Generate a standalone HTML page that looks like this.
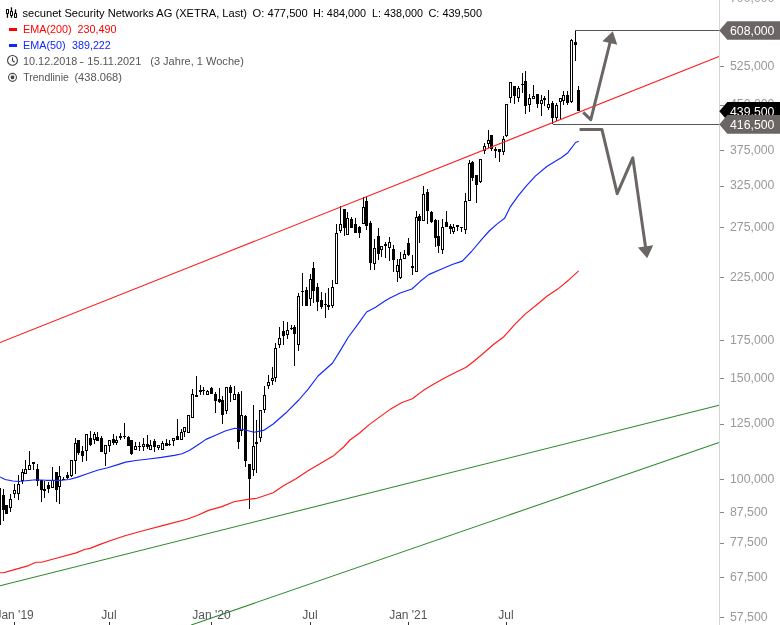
<!DOCTYPE html>
<html><head><meta charset="utf-8"><title>secunet Security Networks AG</title>
<style>
html,body{margin:0;padding:0;background:#fff;}
body{width:780px;height:625px;overflow:hidden;position:relative;font-family:"Liberation Sans",sans-serif;}
svg{position:absolute;left:0;top:0;display:block;}
text{font-family:"Liberation Sans",sans-serif;}
</style></head><body>
<svg width="780" height="625" viewBox="0 0 780 625">
<rect width="780" height="625" fill="#fff"/>

<g shape-rendering="crispEdges">
<rect x="0" y="488" width="1" height="37" fill="#000"/>
<rect x="-1" y="488" width="1" height="37" fill="#000"/>
<rect x="-2" y="498" width="3" height="19" fill="#000"/>
<rect x="-1" y="499" width="1" height="17" fill="#fff"/>
<rect x="3" y="489" width="1" height="32" fill="#000"/>
<rect x="2" y="495" width="3" height="15" fill="#000"/>
<rect x="6" y="505" width="1" height="9" fill="#000"/>
<rect x="5" y="505" width="3" height="9" fill="#000"/>
<rect x="10" y="494" width="1" height="18" fill="#000"/>
<rect x="9" y="499" width="3" height="9" fill="#000"/>
<rect x="10" y="500" width="1" height="7" fill="#fff"/>
<rect x="14" y="484" width="1" height="14" fill="#000"/>
<rect x="13" y="490" width="3" height="4" fill="#000"/>
<rect x="14" y="491" width="1" height="2" fill="#fff"/>
<rect x="18" y="475" width="1" height="25" fill="#000"/>
<rect x="17" y="484" width="3" height="10" fill="#000"/>
<rect x="18" y="485" width="1" height="8" fill="#fff"/>
<rect x="22" y="469" width="1" height="15" fill="#000"/>
<rect x="21" y="472" width="3" height="9" fill="#000"/>
<rect x="22" y="473" width="1" height="7" fill="#fff"/>
<rect x="25" y="460" width="1" height="14" fill="#000"/>
<rect x="24" y="469" width="3" height="5" fill="#000"/>
<rect x="25" y="470" width="1" height="3" fill="#fff"/>
<rect x="29" y="451" width="1" height="19" fill="#000"/>
<rect x="28" y="465" width="3" height="5" fill="#000"/>
<rect x="29" y="466" width="1" height="3" fill="#fff"/>
<rect x="33" y="462" width="1" height="8" fill="#000"/>
<rect x="32" y="462" width="3" height="2" fill="#000"/>
<rect x="37" y="464" width="1" height="22" fill="#000"/>
<rect x="36" y="469" width="3" height="12" fill="#000"/>
<rect x="41" y="480" width="1" height="22" fill="#000"/>
<rect x="40" y="480" width="3" height="10" fill="#000"/>
<rect x="44" y="481" width="1" height="17" fill="#000"/>
<rect x="43" y="489" width="3" height="2" fill="#000"/>
<rect x="48" y="482" width="1" height="11" fill="#000"/>
<rect x="47" y="485" width="3" height="4" fill="#000"/>
<rect x="52" y="467" width="1" height="21" fill="#000"/>
<rect x="51" y="480" width="3" height="8" fill="#000"/>
<rect x="52" y="481" width="1" height="6" fill="#fff"/>
<rect x="56" y="472" width="1" height="30" fill="#000"/>
<rect x="55" y="472" width="3" height="18" fill="#000"/>
<rect x="59" y="466" width="1" height="38" fill="#000"/>
<rect x="58" y="476" width="3" height="11" fill="#000"/>
<rect x="59" y="477" width="1" height="9" fill="#fff"/>
<rect x="63" y="477" width="1" height="3" fill="#000"/>
<rect x="62" y="479" width="3" height="1" fill="#000"/>
<rect x="67" y="472" width="1" height="7" fill="#000"/>
<rect x="66" y="475" width="3" height="3" fill="#000"/>
<rect x="71" y="460" width="1" height="17" fill="#000"/>
<rect x="70" y="460" width="3" height="16" fill="#000"/>
<rect x="71" y="461" width="1" height="14" fill="#fff"/>
<rect x="75" y="438" width="1" height="36" fill="#000"/>
<rect x="74" y="443" width="3" height="18" fill="#000"/>
<rect x="75" y="444" width="1" height="16" fill="#fff"/>
<rect x="78" y="440" width="1" height="15" fill="#000"/>
<rect x="77" y="440" width="3" height="13" fill="#000"/>
<rect x="82" y="446" width="1" height="16" fill="#000"/>
<rect x="81" y="451" width="3" height="5" fill="#000"/>
<rect x="86" y="434" width="1" height="27" fill="#000"/>
<rect x="85" y="434" width="3" height="17" fill="#000"/>
<rect x="86" y="435" width="1" height="15" fill="#fff"/>
<rect x="90" y="431" width="1" height="15" fill="#000"/>
<rect x="89" y="438" width="3" height="7" fill="#000"/>
<rect x="94" y="432" width="1" height="12" fill="#000"/>
<rect x="93" y="434" width="3" height="6" fill="#000"/>
<rect x="94" y="435" width="1" height="4" fill="#fff"/>
<rect x="97" y="432" width="1" height="9" fill="#000"/>
<rect x="96" y="437" width="3" height="4" fill="#000"/>
<rect x="101" y="436" width="1" height="16" fill="#000"/>
<rect x="100" y="438" width="3" height="14" fill="#000"/>
<rect x="105" y="445" width="1" height="21" fill="#000"/>
<rect x="104" y="445" width="3" height="9" fill="#000"/>
<rect x="105" y="446" width="1" height="7" fill="#fff"/>
<rect x="109" y="440" width="1" height="12" fill="#000"/>
<rect x="108" y="440" width="3" height="6" fill="#000"/>
<rect x="109" y="441" width="1" height="4" fill="#fff"/>
<rect x="113" y="434" width="1" height="11" fill="#000"/>
<rect x="112" y="439" width="3" height="4" fill="#000"/>
<rect x="116" y="436" width="1" height="9" fill="#000"/>
<rect x="115" y="440" width="3" height="3" fill="#000"/>
<rect x="116" y="441" width="1" height="1" fill="#fff"/>
<rect x="120" y="433" width="1" height="7" fill="#000"/>
<rect x="119" y="436" width="3" height="2" fill="#000"/>
<rect x="124" y="423" width="1" height="16" fill="#000"/>
<rect x="123" y="436" width="3" height="1" fill="#000"/>
<rect x="128" y="436" width="1" height="10" fill="#000"/>
<rect x="127" y="437" width="3" height="9" fill="#000"/>
<rect x="131" y="440" width="1" height="15" fill="#000"/>
<rect x="130" y="440" width="3" height="14" fill="#000"/>
<rect x="135" y="442" width="1" height="8" fill="#000"/>
<rect x="134" y="446" width="3" height="4" fill="#000"/>
<rect x="135" y="447" width="1" height="2" fill="#fff"/>
<rect x="139" y="442" width="1" height="9" fill="#000"/>
<rect x="138" y="446" width="3" height="1" fill="#000"/>
<rect x="143" y="438" width="1" height="13" fill="#000"/>
<rect x="142" y="444" width="3" height="3" fill="#000"/>
<rect x="143" y="445" width="1" height="1" fill="#fff"/>
<rect x="147" y="435" width="1" height="14" fill="#000"/>
<rect x="146" y="444" width="3" height="3" fill="#000"/>
<rect x="150" y="440" width="1" height="10" fill="#000"/>
<rect x="149" y="445" width="3" height="5" fill="#000"/>
<rect x="150" y="446" width="1" height="3" fill="#fff"/>
<rect x="154" y="439" width="1" height="13" fill="#000"/>
<rect x="153" y="441" width="3" height="6" fill="#000"/>
<rect x="158" y="445" width="1" height="5" fill="#000"/>
<rect x="157" y="445" width="3" height="3" fill="#000"/>
<rect x="158" y="446" width="1" height="1" fill="#fff"/>
<rect x="162" y="441" width="1" height="9" fill="#000"/>
<rect x="161" y="443" width="3" height="7" fill="#000"/>
<rect x="162" y="444" width="1" height="5" fill="#fff"/>
<rect x="166" y="439" width="1" height="7" fill="#000"/>
<rect x="165" y="443" width="3" height="3" fill="#000"/>
<rect x="169" y="440" width="1" height="6" fill="#000"/>
<rect x="168" y="444" width="3" height="1" fill="#000"/>
<rect x="173" y="438" width="1" height="8" fill="#000"/>
<rect x="172" y="438" width="3" height="3" fill="#000"/>
<rect x="173" y="439" width="1" height="1" fill="#fff"/>
<rect x="177" y="419" width="1" height="21" fill="#000"/>
<rect x="176" y="436" width="3" height="4" fill="#000"/>
<rect x="181" y="429" width="1" height="11" fill="#000"/>
<rect x="180" y="432" width="3" height="8" fill="#000"/>
<rect x="181" y="433" width="1" height="6" fill="#fff"/>
<rect x="184" y="427" width="1" height="10" fill="#000"/>
<rect x="183" y="427" width="3" height="5" fill="#000"/>
<rect x="184" y="428" width="1" height="3" fill="#fff"/>
<rect x="188" y="415" width="1" height="18" fill="#000"/>
<rect x="187" y="415" width="3" height="18" fill="#000"/>
<rect x="188" y="416" width="1" height="16" fill="#fff"/>
<rect x="192" y="389" width="1" height="29" fill="#000"/>
<rect x="191" y="394" width="3" height="24" fill="#000"/>
<rect x="192" y="395" width="1" height="22" fill="#fff"/>
<rect x="196" y="376" width="1" height="21" fill="#000"/>
<rect x="195" y="395" width="3" height="2" fill="#000"/>
<rect x="200" y="385" width="1" height="10" fill="#000"/>
<rect x="199" y="390" width="3" height="2" fill="#000"/>
<rect x="203" y="387" width="1" height="8" fill="#000"/>
<rect x="202" y="390" width="3" height="1" fill="#000"/>
<rect x="207" y="390" width="1" height="5" fill="#000"/>
<rect x="206" y="391" width="3" height="4" fill="#000"/>
<rect x="207" y="392" width="1" height="2" fill="#fff"/>
<rect x="211" y="387" width="1" height="7" fill="#000"/>
<rect x="210" y="388" width="3" height="6" fill="#000"/>
<rect x="215" y="392" width="1" height="21" fill="#000"/>
<rect x="214" y="394" width="3" height="7" fill="#000"/>
<rect x="219" y="388" width="1" height="15" fill="#000"/>
<rect x="218" y="399" width="3" height="3" fill="#000"/>
<rect x="222" y="396" width="1" height="28" fill="#000"/>
<rect x="221" y="400" width="3" height="15" fill="#000"/>
<rect x="226" y="387" width="1" height="27" fill="#000"/>
<rect x="225" y="387" width="3" height="24" fill="#000"/>
<rect x="226" y="388" width="1" height="22" fill="#fff"/>
<rect x="230" y="385" width="1" height="17" fill="#000"/>
<rect x="229" y="387" width="3" height="6" fill="#000"/>
<rect x="234" y="386" width="1" height="14" fill="#000"/>
<rect x="233" y="394" width="3" height="6" fill="#000"/>
<rect x="234" y="395" width="1" height="4" fill="#fff"/>
<rect x="238" y="392" width="1" height="57" fill="#000"/>
<rect x="237" y="394" width="3" height="48" fill="#000"/>
<rect x="241" y="391" width="1" height="45" fill="#000"/>
<rect x="240" y="415" width="3" height="16" fill="#000"/>
<rect x="241" y="416" width="1" height="14" fill="#fff"/>
<rect x="245" y="415" width="1" height="52" fill="#000"/>
<rect x="244" y="416" width="3" height="45" fill="#000"/>
<rect x="249" y="464" width="1" height="45" fill="#000"/>
<rect x="248" y="464" width="3" height="15" fill="#000"/>
<rect x="253" y="405" width="1" height="71" fill="#000"/>
<rect x="252" y="446" width="3" height="24" fill="#000"/>
<rect x="253" y="447" width="1" height="22" fill="#fff"/>
<rect x="256" y="420" width="1" height="53" fill="#000"/>
<rect x="255" y="442" width="3" height="2" fill="#000"/>
<rect x="260" y="410" width="1" height="32" fill="#000"/>
<rect x="259" y="410" width="3" height="28" fill="#000"/>
<rect x="260" y="411" width="1" height="26" fill="#fff"/>
<rect x="264" y="386" width="1" height="27" fill="#000"/>
<rect x="263" y="395" width="3" height="15" fill="#000"/>
<rect x="264" y="396" width="1" height="13" fill="#fff"/>
<rect x="268" y="375" width="1" height="14" fill="#000"/>
<rect x="267" y="382" width="3" height="4" fill="#000"/>
<rect x="268" y="383" width="1" height="2" fill="#fff"/>
<rect x="272" y="367" width="1" height="18" fill="#000"/>
<rect x="271" y="378" width="3" height="3" fill="#000"/>
<rect x="272" y="379" width="1" height="1" fill="#fff"/>
<rect x="275" y="343" width="1" height="39" fill="#000"/>
<rect x="274" y="348" width="3" height="30" fill="#000"/>
<rect x="275" y="349" width="1" height="28" fill="#fff"/>
<rect x="279" y="327" width="1" height="21" fill="#000"/>
<rect x="278" y="338" width="3" height="7" fill="#000"/>
<rect x="279" y="339" width="1" height="5" fill="#fff"/>
<rect x="283" y="321" width="1" height="24" fill="#000"/>
<rect x="282" y="331" width="3" height="5" fill="#000"/>
<rect x="287" y="322" width="1" height="17" fill="#000"/>
<rect x="286" y="330" width="3" height="5" fill="#000"/>
<rect x="287" y="331" width="1" height="3" fill="#fff"/>
<rect x="291" y="325" width="1" height="5" fill="#000"/>
<rect x="290" y="328" width="3" height="1" fill="#000"/>
<rect x="294" y="325" width="1" height="41" fill="#000"/>
<rect x="293" y="327" width="3" height="7" fill="#000"/>
<rect x="298" y="293" width="1" height="58" fill="#000"/>
<rect x="297" y="296" width="3" height="49" fill="#000"/>
<rect x="298" y="297" width="1" height="47" fill="#fff"/>
<rect x="302" y="273" width="1" height="33" fill="#000"/>
<rect x="301" y="291" width="3" height="1" fill="#000"/>
<rect x="306" y="287" width="1" height="19" fill="#000"/>
<rect x="305" y="290" width="3" height="16" fill="#000"/>
<rect x="310" y="274" width="1" height="32" fill="#000"/>
<rect x="309" y="279" width="3" height="20" fill="#000"/>
<rect x="310" y="280" width="1" height="18" fill="#fff"/>
<rect x="313" y="262" width="1" height="41" fill="#000"/>
<rect x="312" y="268" width="3" height="23" fill="#000"/>
<rect x="317" y="283" width="1" height="28" fill="#000"/>
<rect x="316" y="287" width="3" height="15" fill="#000"/>
<rect x="321" y="292" width="1" height="17" fill="#000"/>
<rect x="320" y="300" width="3" height="7" fill="#000"/>
<rect x="325" y="293" width="1" height="25" fill="#000"/>
<rect x="324" y="304" width="3" height="1" fill="#000"/>
<rect x="328" y="288" width="1" height="22" fill="#000"/>
<rect x="327" y="305" width="3" height="2" fill="#000"/>
<rect x="332" y="280" width="1" height="28" fill="#000"/>
<rect x="331" y="287" width="3" height="19" fill="#000"/>
<rect x="332" y="288" width="1" height="17" fill="#fff"/>
<rect x="336" y="224" width="1" height="60" fill="#000"/>
<rect x="335" y="233" width="3" height="51" fill="#000"/>
<rect x="336" y="234" width="1" height="49" fill="#fff"/>
<rect x="340" y="206" width="1" height="27" fill="#000"/>
<rect x="339" y="224" width="3" height="7" fill="#000"/>
<rect x="340" y="225" width="1" height="5" fill="#fff"/>
<rect x="344" y="209" width="1" height="27" fill="#000"/>
<rect x="343" y="209" width="3" height="19" fill="#000"/>
<rect x="347" y="212" width="1" height="23" fill="#000"/>
<rect x="346" y="218" width="3" height="17" fill="#000"/>
<rect x="347" y="219" width="1" height="15" fill="#fff"/>
<rect x="351" y="217" width="1" height="11" fill="#000"/>
<rect x="350" y="219" width="3" height="9" fill="#000"/>
<rect x="355" y="218" width="1" height="15" fill="#000"/>
<rect x="354" y="224" width="3" height="9" fill="#000"/>
<rect x="359" y="226" width="1" height="12" fill="#000"/>
<rect x="358" y="227" width="3" height="6" fill="#000"/>
<rect x="363" y="197" width="1" height="27" fill="#000"/>
<rect x="362" y="207" width="3" height="17" fill="#000"/>
<rect x="363" y="208" width="1" height="15" fill="#fff"/>
<rect x="366" y="197" width="1" height="33" fill="#000"/>
<rect x="365" y="201" width="3" height="25" fill="#000"/>
<rect x="370" y="221" width="1" height="49" fill="#000"/>
<rect x="369" y="223" width="3" height="40" fill="#000"/>
<rect x="374" y="239" width="1" height="31" fill="#000"/>
<rect x="373" y="248" width="3" height="16" fill="#000"/>
<rect x="374" y="249" width="1" height="14" fill="#fff"/>
<rect x="378" y="228" width="1" height="32" fill="#000"/>
<rect x="377" y="236" width="3" height="18" fill="#000"/>
<rect x="381" y="246" width="1" height="11" fill="#000"/>
<rect x="380" y="246" width="3" height="4" fill="#000"/>
<rect x="381" y="247" width="1" height="2" fill="#fff"/>
<rect x="385" y="242" width="1" height="16" fill="#000"/>
<rect x="384" y="244" width="3" height="2" fill="#000"/>
<rect x="389" y="237" width="1" height="24" fill="#000"/>
<rect x="388" y="242" width="3" height="6" fill="#000"/>
<rect x="389" y="243" width="1" height="4" fill="#fff"/>
<rect x="393" y="245" width="1" height="27" fill="#000"/>
<rect x="392" y="249" width="3" height="11" fill="#000"/>
<rect x="397" y="259" width="1" height="23" fill="#000"/>
<rect x="396" y="265" width="3" height="7" fill="#000"/>
<rect x="397" y="266" width="1" height="5" fill="#fff"/>
<rect x="400" y="252" width="1" height="27" fill="#000"/>
<rect x="399" y="259" width="3" height="19" fill="#000"/>
<rect x="400" y="260" width="1" height="17" fill="#fff"/>
<rect x="404" y="250" width="1" height="9" fill="#000"/>
<rect x="403" y="254" width="3" height="5" fill="#000"/>
<rect x="404" y="255" width="1" height="3" fill="#fff"/>
<rect x="408" y="238" width="1" height="18" fill="#000"/>
<rect x="407" y="243" width="3" height="12" fill="#000"/>
<rect x="412" y="255" width="1" height="20" fill="#000"/>
<rect x="411" y="266" width="3" height="2" fill="#000"/>
<rect x="416" y="211" width="1" height="61" fill="#000"/>
<rect x="415" y="217" width="3" height="55" fill="#000"/>
<rect x="416" y="218" width="1" height="53" fill="#fff"/>
<rect x="419" y="214" width="1" height="29" fill="#000"/>
<rect x="418" y="216" width="3" height="5" fill="#000"/>
<rect x="423" y="186" width="1" height="35" fill="#000"/>
<rect x="422" y="194" width="3" height="27" fill="#000"/>
<rect x="423" y="195" width="1" height="25" fill="#fff"/>
<rect x="427" y="189" width="1" height="35" fill="#000"/>
<rect x="426" y="192" width="3" height="19" fill="#000"/>
<rect x="431" y="211" width="1" height="12" fill="#000"/>
<rect x="430" y="212" width="3" height="10" fill="#000"/>
<rect x="435" y="219" width="1" height="28" fill="#000"/>
<rect x="434" y="220" width="3" height="18" fill="#000"/>
<rect x="438" y="220" width="1" height="33" fill="#000"/>
<rect x="437" y="236" width="3" height="10" fill="#000"/>
<rect x="442" y="219" width="1" height="35" fill="#000"/>
<rect x="441" y="227" width="3" height="23" fill="#000"/>
<rect x="442" y="228" width="1" height="21" fill="#fff"/>
<rect x="446" y="211" width="1" height="16" fill="#000"/>
<rect x="445" y="222" width="3" height="5" fill="#000"/>
<rect x="450" y="224" width="1" height="10" fill="#000"/>
<rect x="449" y="226" width="3" height="3" fill="#000"/>
<rect x="453" y="224" width="1" height="10" fill="#000"/>
<rect x="452" y="227" width="3" height="5" fill="#000"/>
<rect x="453" y="228" width="1" height="3" fill="#fff"/>
<rect x="457" y="225" width="1" height="6" fill="#000"/>
<rect x="456" y="225" width="3" height="2" fill="#000"/>
<rect x="461" y="227" width="1" height="5" fill="#000"/>
<rect x="460" y="227" width="3" height="1" fill="#000"/>
<rect x="465" y="193" width="1" height="41" fill="#000"/>
<rect x="464" y="201" width="3" height="29" fill="#000"/>
<rect x="465" y="202" width="1" height="27" fill="#fff"/>
<rect x="469" y="160" width="1" height="41" fill="#000"/>
<rect x="468" y="163" width="3" height="38" fill="#000"/>
<rect x="469" y="164" width="1" height="36" fill="#fff"/>
<rect x="472" y="161" width="1" height="20" fill="#000"/>
<rect x="471" y="162" width="3" height="16" fill="#000"/>
<rect x="476" y="175" width="1" height="28" fill="#000"/>
<rect x="475" y="175" width="3" height="10" fill="#000"/>
<rect x="480" y="159" width="1" height="24" fill="#000"/>
<rect x="479" y="159" width="3" height="23" fill="#000"/>
<rect x="480" y="160" width="1" height="21" fill="#fff"/>
<rect x="484" y="143" width="1" height="11" fill="#000"/>
<rect x="483" y="146" width="3" height="5" fill="#000"/>
<rect x="484" y="147" width="1" height="3" fill="#fff"/>
<rect x="488" y="130" width="1" height="18" fill="#000"/>
<rect x="487" y="140" width="3" height="4" fill="#000"/>
<rect x="488" y="141" width="1" height="2" fill="#fff"/>
<rect x="491" y="135" width="1" height="16" fill="#000"/>
<rect x="490" y="135" width="3" height="14" fill="#000"/>
<rect x="495" y="147" width="1" height="11" fill="#000"/>
<rect x="494" y="149" width="3" height="2" fill="#000"/>
<rect x="499" y="149" width="1" height="13" fill="#000"/>
<rect x="498" y="149" width="3" height="3" fill="#000"/>
<rect x="503" y="136" width="1" height="19" fill="#000"/>
<rect x="502" y="139" width="3" height="13" fill="#000"/>
<rect x="503" y="140" width="1" height="11" fill="#fff"/>
<rect x="506" y="104" width="1" height="33" fill="#000"/>
<rect x="505" y="104" width="3" height="32" fill="#000"/>
<rect x="506" y="105" width="1" height="30" fill="#fff"/>
<rect x="510" y="82" width="1" height="21" fill="#000"/>
<rect x="509" y="82" width="3" height="16" fill="#000"/>
<rect x="510" y="83" width="1" height="14" fill="#fff"/>
<rect x="514" y="86" width="1" height="18" fill="#000"/>
<rect x="513" y="86" width="3" height="10" fill="#000"/>
<rect x="518" y="86" width="1" height="16" fill="#000"/>
<rect x="517" y="88" width="3" height="10" fill="#000"/>
<rect x="518" y="89" width="1" height="8" fill="#fff"/>
<rect x="522" y="73" width="1" height="20" fill="#000"/>
<rect x="521" y="84" width="3" height="1" fill="#000"/>
<rect x="525" y="71" width="1" height="43" fill="#000"/>
<rect x="524" y="81" width="3" height="25" fill="#000"/>
<rect x="529" y="94" width="1" height="18" fill="#000"/>
<rect x="528" y="98" width="3" height="7" fill="#000"/>
<rect x="529" y="99" width="1" height="5" fill="#fff"/>
<rect x="533" y="85" width="1" height="14" fill="#000"/>
<rect x="532" y="96" width="3" height="3" fill="#000"/>
<rect x="533" y="97" width="1" height="1" fill="#fff"/>
<rect x="537" y="94" width="1" height="14" fill="#000"/>
<rect x="536" y="94" width="3" height="10" fill="#000"/>
<rect x="541" y="95" width="1" height="21" fill="#000"/>
<rect x="540" y="100" width="3" height="4" fill="#000"/>
<rect x="541" y="101" width="1" height="2" fill="#fff"/>
<rect x="544" y="96" width="1" height="10" fill="#000"/>
<rect x="543" y="98" width="3" height="2" fill="#000"/>
<rect x="548" y="90" width="1" height="20" fill="#000"/>
<rect x="547" y="104" width="3" height="4" fill="#000"/>
<rect x="548" y="105" width="1" height="2" fill="#fff"/>
<rect x="552" y="101" width="1" height="23" fill="#000"/>
<rect x="551" y="103" width="3" height="15" fill="#000"/>
<rect x="556" y="103" width="1" height="18" fill="#000"/>
<rect x="555" y="105" width="3" height="13" fill="#000"/>
<rect x="556" y="106" width="1" height="11" fill="#fff"/>
<rect x="560" y="98" width="1" height="21" fill="#000"/>
<rect x="559" y="98" width="3" height="4" fill="#000"/>
<rect x="560" y="99" width="1" height="2" fill="#fff"/>
<rect x="563" y="91" width="1" height="14" fill="#000"/>
<rect x="562" y="95" width="3" height="6" fill="#000"/>
<rect x="563" y="96" width="1" height="4" fill="#fff"/>
<rect x="567" y="91" width="1" height="14" fill="#000"/>
<rect x="566" y="95" width="3" height="8" fill="#000"/>
<rect x="571" y="39" width="1" height="64" fill="#000"/>
<rect x="570" y="40" width="3" height="62" fill="#000"/>
<rect x="571" y="41" width="1" height="60" fill="#fff"/>
<rect x="575" y="30" width="1" height="31" fill="#000"/>
<rect x="574" y="42" width="3" height="3" fill="#000"/>
<rect x="578" y="86" width="1" height="25" fill="#000"/>
<rect x="577" y="90" width="3" height="21" fill="#000"/>
</g>
<g shape-rendering="crispEdges">
<rect x="575" y="30" width="145" height="1" fill="#5a5552"/>
<rect x="553" y="124" width="167" height="1" fill="#5a5552"/>
</g>
<line x1="0" y1="342.5" x2="719" y2="56.5" stroke="#ff1a1a" stroke-width="1.05"/>
<line x1="0" y1="585.7" x2="719" y2="405.3" stroke="#2e8a2e" stroke-width="1.05"/>
<line x1="191.2" y1="625" x2="719" y2="442.4" stroke="#2e8a2e" stroke-width="1.05"/>
<polyline points="0.0,476.9 5.1,479.5 12.8,481.0 19.2,481.5 25.6,480.8 35.9,479.7 46.2,480.3 61.5,480.3 69.2,479.5 76.9,477.4 87.2,473.8 97.4,470.3 107.7,467.7 117.9,464.6 125.6,462.1 135.9,460.5 148.7,459.0 161.5,457.4 174.4,455.4 182.1,453.8 189.7,450.3 199.6,443.8 206.0,439.4 215.6,435.2 225.2,431.0 234.8,428.2 244.4,429.8 254.0,432.3 263.6,430.4 273.2,424.0 286.0,412.8 298.8,400.0 308.4,388.8 318.0,376.0 332.4,363.2 340.4,350.4 348.4,337.0 358.0,324.2 366.6,312.0 375.6,307.2 385.2,300.8 390.0,298.0 400.2,293.0 411.9,289.0 420.3,281.3 428.7,274.6 440.5,269.5 452.2,264.5 462.3,261.1 471.5,251.5 481.5,239.6 489.2,231.0 496.9,224.1 504.6,218.3 510.3,206.8 518.0,196.2 525.7,186.6 535.3,176.1 546.8,166.5 554.5,161.7 561.2,157.8 567.9,152.7 575.6,142.5 578.8,141.3" fill="none" stroke="#1026ff" stroke-width="1.15" stroke-linejoin="round"/>
<polyline points="0.0,572.7 3.4,572.7 13.6,569.9 28.6,565.6 36.0,562.2 41.5,562.2 54.4,558.8 76.2,552.9 84.4,549.5 90.0,548.4 100.8,544.1 111.5,540.3 125.0,535.7 143.9,530.5 165.4,524.9 186.9,519.2 197.7,515.2 208.5,510.4 221.9,506.6 234.0,501.7 246.2,499.6 256.9,498.2 273.1,492.8 283.9,485.6 295.6,479.0 308.4,470.4 321.2,463.0 334.0,455.4 343.6,447.0 350.0,440.0 359.6,433.0 369.2,424.6 378.8,417.6 390.8,408.9 401.5,402.7 412.3,398.7 423.1,390.6 433.9,383.9 444.6,377.9 455.4,372.5 466.2,367.2 474.2,361.0 482.3,354.2 493.1,344.8 503.9,336.7 514.6,324.6 525.4,313.9 536.2,305.2 546.9,296.3 557.7,289.1 568.5,280.2 578.7,270.8" fill="none" stroke="#ff1a1a" stroke-width="1.15" stroke-linejoin="round"/>
<polyline points="583.2,112.4 590.8,119.7 610.3,41.5" fill="none" stroke="#6b6664" stroke-width="3" stroke-linejoin="round"/>
<polygon points="612.8,31.2 602.4,41.2 617.3,44.8" fill="#6b6664"/>
<polyline points="579.6,129.4 601.9,129.4 617.2,193.6 632.8,157.9 645.5,246.9" fill="none" stroke="#6b6664" stroke-width="3" stroke-linejoin="round"/>
<polygon points="647.2,258.2 637.9,247.4 653.2,245.2" fill="#6b6664"/>
<g shape-rendering="crispEdges">
<rect x="719" y="0" width="1" height="625" fill="#d4d4d4"/>
<rect x="720" y="-6" width="4" height="1" fill="#888"/>
<rect x="720" y="66" width="4" height="1" fill="#888"/>
<rect x="720" y="105" width="4" height="1" fill="#888"/>
<rect x="720" y="150" width="4" height="1" fill="#888"/>
<rect x="720" y="186" width="4" height="1" fill="#888"/>
<rect x="720" y="227" width="4" height="1" fill="#888"/>
<rect x="720" y="277" width="4" height="1" fill="#888"/>
<rect x="720" y="340" width="4" height="1" fill="#888"/>
<rect x="720" y="378" width="4" height="1" fill="#888"/>
<rect x="720" y="424" width="4" height="1" fill="#888"/>
<rect x="720" y="479" width="4" height="1" fill="#888"/>
<rect x="720" y="512" width="4" height="1" fill="#888"/>
<rect x="720" y="543" width="4" height="1" fill="#888"/>
<rect x="720" y="577" width="4" height="1" fill="#888"/>
<rect x="720" y="617" width="4" height="1" fill="#888"/>
<rect x="14" y="622" width="1" height="3" fill="#333"/>
<rect x="109" y="622" width="1" height="3" fill="#333"/>
<rect x="211" y="622" width="1" height="3" fill="#333"/>
<rect x="310" y="622" width="1" height="3" fill="#333"/>
<rect x="408" y="622" width="1" height="3" fill="#333"/>
<rect x="506" y="622" width="1" height="3" fill="#333"/>
</g>
<text x="730" y="1.5" font-size="12.3" fill="#999">700,000</text>
<text x="730" y="69.9" font-size="12.3" fill="#999">525,000</text>
<text x="730" y="108.3" font-size="12.3" fill="#999">450,000</text>
<text x="730" y="153.7" font-size="12.3" fill="#999">375,000</text>
<text x="730" y="189.4" font-size="12.3" fill="#999">325,000</text>
<text x="730" y="231.0" font-size="12.3" fill="#999">275,000</text>
<text x="730" y="280.9" font-size="12.3" fill="#999">225,000</text>
<text x="730" y="343.5" font-size="12.3" fill="#999">175,000</text>
<text x="730" y="381.9" font-size="12.3" fill="#999">150,000</text>
<text x="730" y="427.3" font-size="12.3" fill="#999">125,000</text>
<text x="730" y="482.9" font-size="12.3" fill="#999">100,000</text>
<text x="730" y="516.1" font-size="12.3" fill="#999">87,500</text>
<text x="730" y="546.4" font-size="12.3" fill="#999">77,500</text>
<text x="730" y="580.8" font-size="12.3" fill="#999">67,500</text>
<text x="730" y="620.7" font-size="12.3" fill="#999">57,500</text>
<polygon points="719.3,111.3 727.3,102.0 780,102.0 780,120.6 727.3,120.6" fill="#000"/><text x="730" y="115.8" font-size="12.3" fill="#fff">439,500</text>
<polygon points="719.3,30.5 727.3,21.2 780,21.2 780,39.8 727.3,39.8" fill="#6b6664"/><text x="730" y="35.0" font-size="12.3" fill="#fff">608,000</text>
<polygon points="719.3,124.4 727.3,115.1 780,115.1 780,133.7 727.3,133.7" fill="#6b6664"/><text x="730" y="128.9" font-size="12.3" fill="#fff">416,500</text>
<text x="14.6" y="618.6" font-size="12" fill="#555" text-anchor="middle">Jan '19</text>
<text x="108.9" y="618.6" font-size="12" fill="#555" text-anchor="middle">Jul</text>
<text x="211.4" y="618.6" font-size="12" fill="#555" text-anchor="middle">Jan '20</text>
<text x="310.0" y="618.6" font-size="12" fill="#555" text-anchor="middle">Jul</text>
<text x="408.3" y="618.6" font-size="12" fill="#555" text-anchor="middle">Jan '21</text>
<text x="505.9" y="618.6" font-size="12" fill="#555" text-anchor="middle">Jul</text>
<g font-size="11">
<g stroke="#000" stroke-width="1.3" fill="#fff"><line x1="7.45" y1="14" x2="7.45" y2="17.8"/><rect x="6.5" y="9.5" width="2" height="4" rx="0.3" stroke-width="1.05"/><line x1="11.45" y1="7.3" x2="11.45" y2="17.8"/><rect x="10.5" y="11.5" width="2" height="4" rx="0.3" stroke-width="1.05"/><line x1="15.5" y1="9.4" x2="15.5" y2="13.5"/><rect x="14.55" y="13.55" width="2" height="3.9" rx="0.3" stroke-width="1.05"/></g>
<text id="p0" x="22.52" y="16.7" fill="#000" textLength="224.52" lengthAdjust="spacingAndGlyphs">secunet Security Networks AG (XETRA, Last)</text>
<text id="p1" x="252.59" y="16.7" fill="#000" textLength="55.16" lengthAdjust="spacingAndGlyphs">O: 477,500</text>
<text id="p2" x="313.01" y="16.7" fill="#000" textLength="53.11" lengthAdjust="spacingAndGlyphs">H: 484,000</text>
<text id="p3" x="372.02" y="16.7" fill="#000" textLength="51.02" lengthAdjust="spacingAndGlyphs">L: 438,000</text>
<text id="p4" x="428.40" y="16.7" fill="#000" textLength="53.59" lengthAdjust="spacingAndGlyphs">C: 439,500</text>
<text id="p5" x="23.07" y="32.8" fill="#ff0000" textLength="48.55" lengthAdjust="spacingAndGlyphs">EMA(200)</text>
<text id="p6" x="77.62" y="32.8" fill="#ff0000" textLength="38.81" lengthAdjust="spacingAndGlyphs">230,490</text>
<text id="p7" x="23.02" y="48.8" fill="#1026ff" textLength="42.66" lengthAdjust="spacingAndGlyphs">EMA(50)</text>
<text id="p8" x="72.01" y="48.8" fill="#1026ff" textLength="38.80" lengthAdjust="spacingAndGlyphs">389,222</text>
<text id="p9" x="23.05" y="64.7" fill="#555" textLength="54.25" lengthAdjust="spacingAndGlyphs">10.12.2018</text>
<text id="p10" x="79.21" y="64.7" fill="#555" textLength="4.80" lengthAdjust="spacingAndGlyphs">-</text>
<text id="p11" x="87.35" y="64.7" fill="#555" textLength="53.90" lengthAdjust="spacingAndGlyphs">15.11.2021</text>
<text id="p12" x="150.22" y="64.7" fill="#555" textLength="93.61" lengthAdjust="spacingAndGlyphs">(3 Jahre, 1 Woche)</text>
<text id="p13" x="23.29" y="80.7" fill="#555" textLength="45.53" lengthAdjust="spacingAndGlyphs">Trendlinie</text>
<text id="p14" x="74.42" y="80.7" fill="#555" textLength="47.57" lengthAdjust="spacingAndGlyphs">(438.068)</text>
<rect x="9" y="28" width="8" height="3" fill="#ff0000"/>
<rect x="9" y="44" width="8" height="3" fill="#1026ff"/>
<g stroke="#3a3a3a" stroke-width="1.1" fill="none"><circle cx="12.5" cy="60.4" r="4.9"/><polyline points="12.5,57.6 12.5,60.7 14.6,62.3"/></g>
<circle cx="12.5" cy="77.35" r="4" stroke="#4a4a4a" stroke-width="1.1" fill="none"/><rect x="10.7" y="75.55" width="3.6" height="3.6" rx="1.3" fill="#444"/>
</g>
</svg></body></html>
